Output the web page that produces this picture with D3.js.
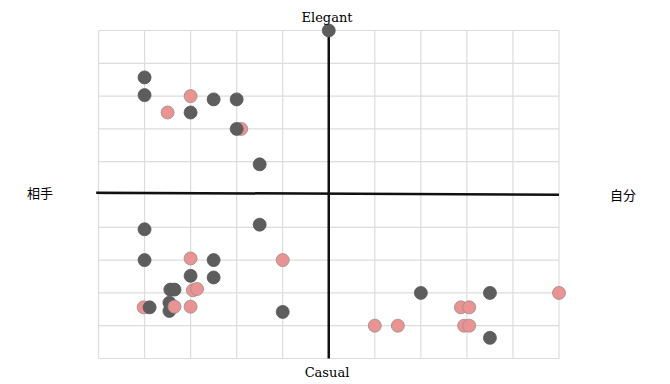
<!DOCTYPE html>
<html>
<head>
<meta charset="utf-8">
<script src="https://cdn.jsdelivr.net/npm/d3@7"></script>
<style>
  body { margin: 0; background: #fff; }
  .cjk { font-family: "Noto Sans CJK JP", "Noto Sans", sans-serif; }
</style>
</head>
<body>
<div id="chart"></div>
<script>
// axis labels
var topLabel = "Elegant",
    bottomLabel = "Casual",
    leftLabel = "相手",
    rightLabel = "自分";

var ticks = d3.range(-5, 6, 1);

// x, y, group ("a" = dark, "b" = pink), in drawing order
var pointX = [0, -4, -4, -3, -2.5, -2, -3.5, -3, -1.9, -2, -1.5,
              -4, -1.5, -4, -3, -2.5, -1, -3, -2.5, -3.44, -3.35, -2.95, -2.86,
              -4.02, -3.89, -3.46, -3.46, -3.35, -3, -1,
              2, 3.5, 5, 2.87, 3.05, 1, 1.5, 2.94, 3.05, 3.5];
var pointY = [5, 3.57, 3.03, 3, 2.9, 2.9, 2.5, 2.5, 2, 2, 0.92,
              -1.06, -0.92, -2, -1.95, -2, -2, -2.48, -2.53, -2.9, -2.9, -2.92, -2.88,
              -3.44, -3.44, -3.3, -3.55, -3.42, -3.42, -3.58,
              -3, -3, -3, -3.44, -3.44, -4, -4, -4, -4, -4.37];
var pointGroup = ["a", "a", "a", "b", "a", "a", "b", "a", "b", "a", "a",
                  "a", "a", "a", "b", "a", "b", "a", "a", "a", "a", "b", "b",
                  "b", "a", "a", "a", "b", "b", "a",
                  "a", "a", "b", "b", "b", "b", "b", "b", "b", "a"];

var width = 670, height = 384;
var svg = d3.select("#chart").append("svg")
  .attr("width", width).attr("height", height);

var x = d3.scaleLinear().domain([-5, 5]).range([98.5, 559]),
    y = d3.scaleLinear().domain([-5, 5]).range([358.5, 30.5]);

// grid
svg.append("g").selectAll("line.v")
  .data(ticks).enter().append("line")
    .attr("x1", d => x(d)).attr("x2", d => x(d))
    .attr("y1", y(5)).attr("y2", y(-5))
    .style("stroke", "#dcdcdc").style("stroke-width", 1.2);
svg.append("g").selectAll("line.h")
  .data(ticks).enter().append("line")
    .attr("x1", x(-5)).attr("x2", x(5))
    .attr("y1", d => y(d)).attr("y2", d => y(d))
    .style("stroke", "#dcdcdc").style("stroke-width", 1.2);

// main axes (the horizontal one is drawn a little tilted in the original)
svg.append("line")
  .attr("x1", x(-5.05)).attr("y1", y(0.055))
  .attr("x2", x(5)).attr("y2", y(-0.005))
  .style("stroke", "#111").style("stroke-width", 2.5);
svg.append("line")
  .attr("x1", x(0)).attr("y1", y(5))
  .attr("x2", x(0)).attr("y2", y(-5))
  .style("stroke", "#111").style("stroke-width", 2.5);

// points
var points = pointX.map((d, i) => ({x: d, y: pointY[i], g: pointGroup[i]}));
svg.append("g").selectAll("circle")
  .data(points).enter().append("circle")
    .attr("cx", d => x(d.x))
    .attr("cy", d => y(d.y))
    .attr("r", 6.5)
    .style("fill", d => d.g == "a" ? "#5d5d5d" : "#e99393")
    .style("stroke", d => d.g == "a" ? "#575757" : "#9a8a8a")
    .style("stroke-width", 0.8);

// labels
svg.append("text").attr("x", 327).attr("y", 22)
  .attr("text-anchor", "middle")
  .style("font-family", "'DejaVu Serif', serif").style("font-size", "13px")
  .text(topLabel);
svg.append("text").attr("x", 327).attr("y", 377)
  .attr("text-anchor", "middle")
  .style("font-family", "'DejaVu Serif', serif").style("font-size", "13px")
  .text(bottomLabel);
svg.append("text").attr("class", "cjk").attr("x", 40).attr("y", 198)
  .attr("text-anchor", "middle").style("font-size", "13px")
  .text(leftLabel);
svg.append("text").attr("class", "cjk").attr("x", 623).attr("y", 200)
  .attr("text-anchor", "middle").style("font-size", "13px")
  .text(rightLabel);
</script>
</body>
</html>
